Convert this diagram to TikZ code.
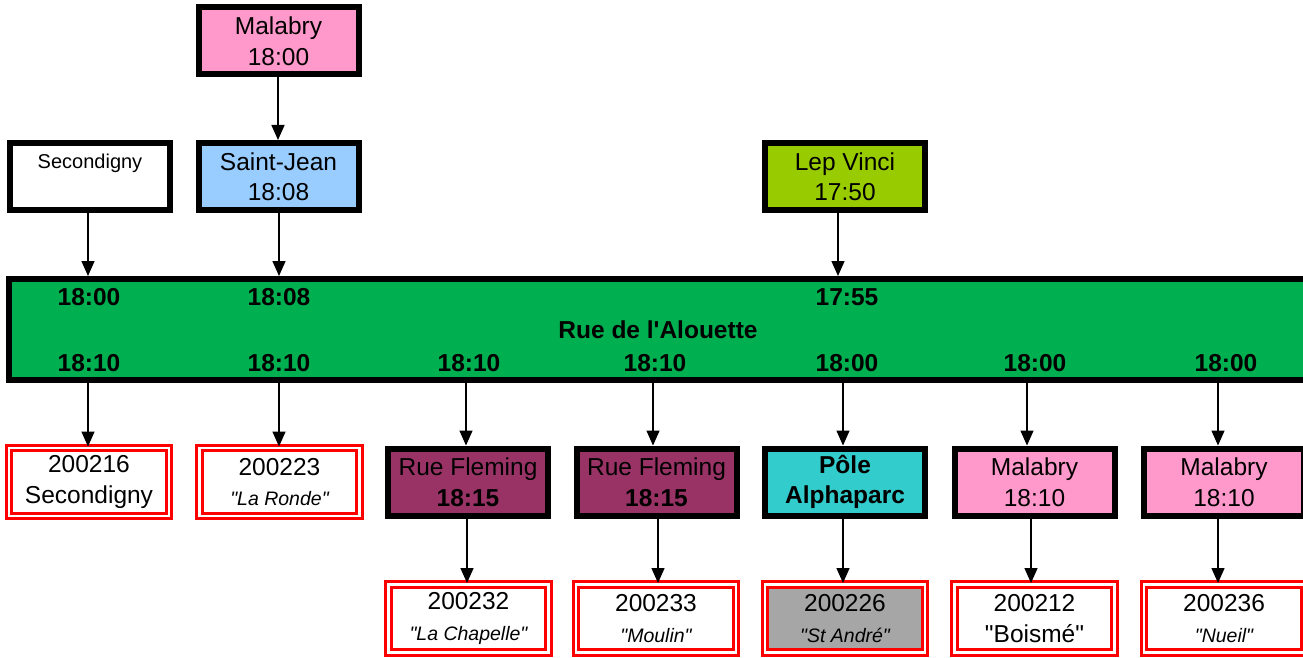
\documentclass[tikz,border=0pt]{standalone}
\usepackage{fontspec}
\setmainfont{Liberation Sans}[Ligatures=TeXOff]
\usetikzlibrary{arrows.meta}
\definecolor{pinkc}{HTML}{FF99CC}
\definecolor{bluec}{HTML}{99CCFF}
\definecolor{limec}{HTML}{99CC00}
\definecolor{barc}{HTML}{00B050}
\definecolor{plumc}{HTML}{993366}
\definecolor{tealc}{HTML}{33CCCC}
\definecolor{grayc}{HTML}{A6A6A6}
\definecolor{redc}{HTML}{FF0000}
\newcommand\smit[1]{{\fontsize{19.5}{30}\selectfont\itshape #1}}
\begin{document}
\begin{tikzpicture}[x=1pt,y=-1pt,
  blk/.style={draw=black, line width=6pt, minimum width=160pt, minimum height=67pt,
    inner sep=0pt, align=center, font=\fontsize{24.5}{30.5}\selectfont},
  redbox/.style={draw=redc, line width=3pt, double=white, double distance=2.5pt,
    minimum width=160pt, minimum height=68pt, inner sep=0pt, align=center,
    font=\fontsize{24.5}{30.5}\selectfont},
  bartxt/.style={font=\fontsize{24.5}{30}\selectfont\bfseries, inner sep=0pt},
  arr/.style={line width=1.5pt, -{Triangle[length=15pt,width=13pt]}}]
\useasboundingbox (0,0) rectangle (1303,658);
\clip (0,0) rectangle (1303,658);
\fill[white] (0,0) rectangle (1303,658);

% top boxes
\node[blk, fill=pinkc] (mal0) at (278.5,41) {Malabry\\18:00};
\node[blk, fill=white, font=\fontsize{20}{30}\selectfont] (sec0) at (90,176.5) {Secondigny\\\phantom{1}};
\node[blk, fill=bluec] (sj) at (278.5,176.5) {Saint-Jean\\18:08};
\node[blk, fill=limec] (lep) at (845,176.5) {Lep Vinci\\17:50};

% green bar
\node[draw=black, line width=6pt, fill=barc, minimum width=1301pt, minimum height=101pt, inner sep=0pt] (bar) at (659.5,329.5) {};
\node[bartxt] (t1) at (89,297) {18:00};
\node[bartxt] (t2) at (279,297) {18:08};
\node[bartxt] (t3) at (847,297) {17:55};
\node[bartxt] (tn) at (658,330) {Rue de l'Alouette};
\node[bartxt] (b1) at (89,363) {18:10};
\node[bartxt] (b2) at (279,363) {18:10};
\node[bartxt] (b3) at (469,363) {18:10};
\node[bartxt] (b4) at (655,363) {18:10};
\node[bartxt] (b5) at (847,363) {18:00};
\node[bartxt] (b6) at (1035,363) {18:00};
\node[bartxt] (b7) at (1226,363) {18:00};

% middle row
\node[redbox] (r1) at (89,482) {200216\\Secondigny};
\node[redbox] (r2) at (279.5,482) {200223\\\smit{"La Ronde"}};
\node[blk, fill=plumc] (rf1) at (468,482) {Rue Fleming\\\textbf{18:15}};
\node[blk, fill=plumc] (rf2) at (656.5,482) {Rue Fleming\\\textbf{18:15}};
\node[blk, fill=tealc, font=\fontsize{24.5}{30.5}\selectfont\bfseries] (pole) at (845,482) {Pôle\\Alphaparc};
\node[blk, fill=pinkc] (mal1) at (1034.5,482) {Malabry\\18:10};
\node[blk, fill=pinkc] (mal2) at (1224,482) {Malabry\\18:10};

% bottom row
\node[redbox] (c3) at (468.5,618.5) {200232\\\smit{"La Chapelle"}};
\node[redbox] (c4) at (656,618.5) {200233\\\smit{"Moulin"}};
\node[redbox, fill=grayc] (c5) at (845,618.5) {200226\\\smit{"St André"}};
\node[redbox] (c6) at (1034.5,618.5) {200212\\"Boismé"};
\node[redbox] (c7) at (1224,618.5) {200236\\\smit{"Nueil"}};

% arrow columns
\coordinate (xa) at (278,0);
\coordinate (x1) at (88,0);
\coordinate (x2) at (279,0);
\coordinate (xl) at (838,0);
\coordinate (x3) at (466,0);
\coordinate (x3b) at (467,0);
\coordinate (x4) at (653,0);
\coordinate (x4b) at (658,0);
\coordinate (x5) at (843,0);
\coordinate (x6) at (1027,0);
\coordinate (x6b) at (1031,0);
\coordinate (x7) at (1218,0);

\draw[arr] (mal0.south -| xa) -- (sj.north -| xa);
\draw[arr] (sec0.south -| x1) -- (bar.north -| x1);
\draw[arr] (sj.south -| x2) -- (bar.north -| x2);
\draw[arr] (lep.south -| xl) -- (bar.north -| xl);

\draw[arr] (bar.south -| x1) -- (r1.north -| x1);
\draw[arr] (bar.south -| x2) -- (r2.north -| x2);
\draw[arr] (bar.south -| x3) -- (rf1.north -| x3);
\draw[arr] (bar.south -| x4) -- (rf2.north -| x4);
\draw[arr] (bar.south -| x5) -- (pole.north -| x5);
\draw[arr] (bar.south -| x6) -- (mal1.north -| x6);
\draw[arr] (bar.south -| x7) -- (mal2.north -| x7);

\draw[arr] (rf1.south -| x3b) -- (c3.north -| x3b);
\draw[arr] (rf2.south -| x4b) -- (c4.north -| x4b);
\draw[arr] (pole.south -| x5) -- (c5.north -| x5);
\draw[arr] (mal1.south -| x6b) -- (c6.north -| x6b);
\draw[arr] (mal2.south -| x7) -- (c7.north -| x7);
\end{tikzpicture}
\end{document}
